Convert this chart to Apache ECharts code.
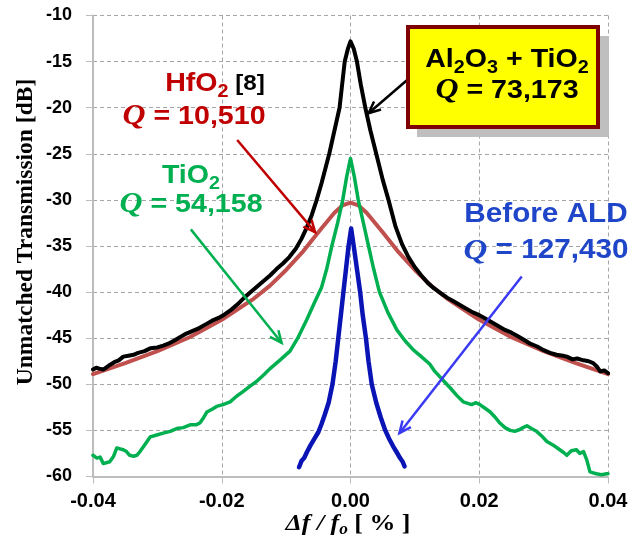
<!DOCTYPE html>
<html>
<head>
<meta charset="utf-8">
<script src="https://cdn.jsdelivr.net/npm/echarts@6/dist/echarts.min.js"></script>
<style>
  html, body { margin: 0; padding: 0; background: #fff; }
  #chart { width: 639px; height: 541px; }
</style>
</head>
<body>
<div id="chart"></div>
<script>
// x = Δf/fo [%], y = unmatched transmission [dB]
const xTicks = [-0.04, -0.02, 0.00, 0.02, 0.04]
const yTicks = [-60, -55, -50, -45, -40, -35, -30, -25, -20, -15, -10]

// HfO2 [8], Q = 10,510
const hfo2 = [
  [-0.04, -48.9], [-0.035, -47.7], [-0.03, -46.4], [-0.025, -44.9], [-0.02, -43.0],
  [-0.015, -40.7], [-0.0125, -39.3], [-0.01, -37.6], [-0.0075, -35.7], [-0.005, -33.5],
  [-0.0025, -31.4], [-0.00125, -30.6], [0, -30.3], [0.00125, -30.6], [0.0025, -31.4],
  [0.005, -33.5], [0.0075, -35.7], [0.01, -37.6], [0.0125, -39.3], [0.015, -40.7],
  [0.02, -43.0], [0.025, -44.9], [0.03, -46.4], [0.035, -47.7], [0.04, -48.9]
]

// Al2O3 + TiO2, Q = 73,173
const alTio2 = [
  [-0.0400, -48.4], [-0.0395, -48.2], [-0.0390, -48.3], [-0.0384, -48.4], [-0.0378, -48.1],
  [-0.0374, -47.9], [-0.0367, -47.6], [-0.0360, -47.4], [-0.0353, -47.0], [-0.0345, -46.9],
  [-0.0337, -46.8], [-0.0330, -46.6], [-0.0320, -46.4], [-0.0311, -46.1], [-0.0300, -46.0],
  [-0.0291, -45.8], [-0.0283, -45.6], [-0.0275, -45.3], [-0.0265, -44.9], [-0.0255, -44.5],
  [-0.0245, -44.2], [-0.0235, -43.9], [-0.0225, -43.5], [-0.0215, -43.1], [-0.0205, -42.8],
  [-0.0195, -42.4], [-0.0185, -41.9], [-0.0175, -41.3], [-0.0165, -40.6], [-0.0155, -40.0],
  [-0.0145, -39.4], [-0.0135, -38.8], [-0.0125, -38.2], [-0.0115, -37.5], [-0.0105, -36.9],
  [-0.0095, -36.2], [-0.0085, -35.3], [-0.0076, -34.2], [-0.0068, -33.0], [-0.0060, -31.6],
  [-0.0053, -30.1], [-0.0045, -28.2], [-0.0039, -26.6], [-0.0033, -25.0], [-0.0025, -22.5],
  [-0.0017, -20.0], [-0.0013, -17.5], [-0.0009, -15.0], [-0.0004, -13.6], [0, -12.8],
  [0.0005, -13.6], [0.0010, -15.0], [0.0016, -17.5], [0.0023, -20.0], [0.0031, -22.5],
  [0.0040, -25.0], [0.0050, -27.8], [0.0059, -30.0], [0.0070, -32.9], [0.0080, -34.8],
  [0.0090, -36.2], [0.0100, -37.3], [0.0110, -38.2], [0.0120, -39.0], [0.0130, -39.6],
  [0.0140, -40.1], [0.0150, -40.6], [0.0160, -41.0], [0.0170, -41.4], [0.0180, -41.8],
  [0.0190, -42.2], [0.0200, -42.5], [0.0210, -42.9], [0.0220, -43.3], [0.0230, -43.7],
  [0.0240, -44.1], [0.0250, -44.4], [0.0260, -44.8], [0.0270, -45.2], [0.0279, -45.6],
  [0.0290, -45.9], [0.0300, -46.3], [0.0310, -46.6], [0.0320, -46.8], [0.0330, -46.9],
  [0.0336, -47.0], [0.0345, -47.3], [0.0352, -47.2], [0.0362, -47.4], [0.0370, -47.5],
  [0.0377, -47.7], [0.0383, -48.1], [0.0388, -48.6], [0.0394, -48.5], [0.0400, -48.8]
]

// TiO2, Q = 54,158
const tio2 = [
  [-0.0400, -57.7], [-0.0394, -58.0], [-0.0389, -57.9], [-0.0384, -58.6], [-0.0374, -58.4],
  [-0.0368, -57.8], [-0.0363, -56.9], [-0.0358, -57.0], [-0.0353, -57.1], [-0.0348, -57.3],
  [-0.0343, -57.7], [-0.0337, -57.8], [-0.0332, -57.7], [-0.0327, -57.3], [-0.0322, -56.8],
  [-0.0316, -56.2], [-0.0311, -55.7], [-0.0301, -55.5], [-0.0291, -55.3], [-0.0280, -55.1],
  [-0.0270, -54.8], [-0.0260, -54.7], [-0.0249, -54.4], [-0.0240, -54.4], [-0.0234, -54.2],
  [-0.0228, -53.6], [-0.0223, -53.0], [-0.0215, -52.7], [-0.0208, -52.4], [-0.0198, -52.2],
  [-0.0187, -51.9], [-0.0177, -51.3], [-0.0167, -50.8], [-0.0156, -50.2], [-0.0146, -49.7],
  [-0.0135, -49.0], [-0.0125, -48.3], [-0.0110, -47.4], [-0.0094, -46.4], [-0.0082, -45.0],
  [-0.0068, -43.0], [-0.0055, -41.0], [-0.0045, -39.5], [-0.0037, -37.5], [-0.0029, -35.0],
  [-0.0020, -32.5], [-0.0012, -30.0], [-0.0006, -27.5], [0, -25.5], [0.0006, -27.5],
  [0.0012, -30.0], [0.0020, -32.5], [0.0028, -35.0], [0.0036, -37.5], [0.0045, -40.0],
  [0.0058, -42.2], [0.0072, -44.1], [0.0085, -45.3], [0.0098, -46.3], [0.0110, -47.0],
  [0.0123, -47.8], [0.0131, -48.6], [0.0139, -49.2], [0.0147, -49.8], [0.0155, -50.4],
  [0.0165, -51.2], [0.0175, -51.9], [0.0188, -52.2], [0.0195, -52.0], [0.0201, -52.2],
  [0.0209, -52.6], [0.0217, -53.0], [0.0225, -53.6], [0.0232, -54.2], [0.0240, -54.7],
  [0.0248, -55.0], [0.0255, -55.1], [0.0263, -54.9], [0.0268, -54.7], [0.0274, -54.5],
  [0.0281, -54.8], [0.0289, -55.1], [0.0297, -55.6], [0.0305, -56.2], [0.0315, -56.6],
  [0.0325, -57.1], [0.0331, -57.4], [0.0336, -57.7], [0.0343, -57.2], [0.0351, -57.1],
  [0.0356, -57.5], [0.0362, -57.3], [0.0367, -58.2], [0.0372, -59.5], [0.0377, -59.6],
  [0.0382, -59.7], [0.0390, -59.8], [0.0398, -59.7], [0.0400, -59.7]
]

// Before ALD, Q = 127,430
const beforeAld = [
  [-0.0080, -59.0], [-0.0076, -58.3], [-0.0072, -58.0], [-0.0068, -57.4], [-0.0062, -56.6],
  [-0.0056, -55.9], [-0.0050, -55.2], [-0.0045, -54.3], [-0.0040, -53.3], [-0.0034, -52.0],
  [-0.0028, -50.0], [-0.0023, -47.5], [-0.0019, -45.0], [-0.0015, -42.5], [-0.0011, -40.0],
  [-0.0007, -37.5], [-0.0003, -35.0], [0.0001, -33.1], [0.0005, -35.0], [0.0010, -37.5],
  [0.0015, -40.0], [0.0019, -42.5], [0.0024, -45.0], [0.0028, -47.5], [0.0033, -50.0],
  [0.0040, -52.0], [0.0047, -53.6], [0.0054, -55.0], [0.0060, -55.9], [0.0066, -56.7],
  [0.0072, -57.4], [0.0077, -58.0], [0.0081, -58.4], [0.0084, -58.9]
]

// annotation arrows: [from, to] in data units
const arrowAl = [[0.0088, -17.0], [0.0028, -20.6]]
const arrowHf = [[-0.0176, -23.5], [-0.0055, -33.5]]
const arrowTi = [[-0.0248, -33.2], [-0.0107, -45.5]]
const arrowBefore = [[0.0266, -38.3], [0.0076, -55.3]]

const SANS = 'Liberation Sans, Arial, sans-serif'
const SERIF = 'Liberation Serif, Times New Roman, serif'

let chart = echarts.init(document.getElementById('chart'))

function line(name, data, color, width) {
  return {
    name: name,
    type: 'line',
    data: data,
    showSymbol: false,
    lineStyle: { color: color, width: width, join: 'round', cap: 'round' },
    itemStyle: { color: color },
    animation: false
  }
}

let option = {
  animation: false,
  grid: { left: 93, right: 31, top: 15.5, bottom: 64.5 },
  xAxis: {
    type: 'value',
    min: xTicks[0],
    max: xTicks[xTicks.length - 1],
    interval: 0.02,
    axisLine: { onZero: false, lineStyle: { color: '#BDBDBD', width: 2 } },
    axisTick: { show: true, length: 7, lineStyle: { color: '#BDBDBD', width: 1 } },
    splitLine: { show: true, lineStyle: { color: '#A6A6A6', type: [4, 3], width: 1 } },
    axisLabel: {
      margin: 15,
      color: '#000',
      fontFamily: SANS,
      fontWeight: 'bold',
      fontSize: 20,
      formatter: v => v.toFixed(2)
    }
  },
  yAxis: {
    type: 'value',
    min: yTicks[0],
    max: yTicks[yTicks.length - 1],
    interval: 5,
    axisLine: { show: true, onZero: false, lineStyle: { color: '#BDBDBD', width: 2 } },
    axisTick: { show: true, length: 7, lineStyle: { color: '#BDBDBD', width: 1 } },
    splitLine: { show: true, lineStyle: { color: '#A6A6A6', type: [4, 3], width: 1 } },
    axisLabel: {
      margin: 21,
      color: '#000',
      fontFamily: SANS,
      fontWeight: 'bold',
      fontSize: 18
    }
  },
  series: [
    line('HfO2', hfo2, '#C0504D', 4),
    line('Al2O3 + TiO2', alTio2, '#000000', 4),
    line('TiO2', tio2, '#00B050', 3.5),
    line('Before ALD', beforeAld, '#0A14B4', 4.5)
  ]
}
chart.setOption(option)

function arrow(pair, color, width) {
  let a = chart.convertToPixel({ gridIndex: 0 }, pair[0])
  let b = chart.convertToPixel({ gridIndex: 0 }, pair[1])
  let ang = Math.atan2(b[1] - a[1], b[0] - a[0])
  let L = 13, w = 0.42
  let p1 = [b[0] - L * Math.cos(ang - w), b[1] - L * Math.sin(ang - w)]
  let p2 = [b[0] - L * Math.cos(ang + w), b[1] - L * Math.sin(ang + w)]
  return [
    { type: 'polyline', z: 100, shape: { points: [a, b] }, style: { stroke: color, lineWidth: width, fill: null } },
    { type: 'polyline', z: 100, shape: { points: [p1, b, p2] }, style: { stroke: color, lineWidth: width, fill: null, lineJoin: 'miter' } }
  ]
}

function richStyles(color, size) {
  return {
    m: { fontFamily: SANS, fontWeight: 'bold', fontSize: size, fill: color, lineHeight: 34 },
    s: { fontFamily: SANS, fontWeight: 'bold', fontSize: Math.round(size * 0.7), fill: color, lineHeight: 14, verticalAlign: 'bottom' },
    q: { fontFamily: SERIF, fontStyle: 'italic', fontWeight: 'bold', fontSize: size + 3, fill: color, lineHeight: 34 },
    k: { fontFamily: SANS, fontWeight: 'bold', fontSize: 22, fill: '#000', lineHeight: 34 }
  }
}

// text in the source figure is slightly stretched horizontally
function label(text, x, y, color, size) {
  return {
    type: 'text', z: 110, x: x, y: y, scaleX: 1.1, scaleY: 1,
    style: { text: text, rich: richStyles(color, size), align: 'center', verticalAlign: 'middle' }
  }
}

let RED = '#C00000', GREEN = '#00B050', BLUE = '#1F45C8'

let graphics = []
// box with shadow
graphics.push({ type: 'rect', z: 100, shape: { x: 417, y: 36, width: 192, height: 101 }, style: { fill: '#BFBFBF' } })
graphics.push({ type: 'rect', z: 101, shape: { x: 408, y: 27, width: 190, height: 100 }, style: { fill: '#FFFF00', stroke: '#7F0000', lineWidth: 4 } })

graphics = graphics.concat(
  arrow(arrowAl, '#000', 2.5),
  arrow(arrowHf, RED, 2.5),
  arrow(arrowTi, GREEN, 2.5),
  arrow(arrowBefore, '#3A3AF5', 2.5)
)

graphics.push(label('{m|HfO}{s|2}{k| [8]}', 215, 84, RED, 26))
graphics.push(label('{q|Q}{m| = 10,510}', 194, 117, RED, 26))
graphics.push(label('{m|TiO}{s|2}', 191, 176, GREEN, 26))
graphics.push(label('{q|Q}{m| = 54,158}', 191, 205, GREEN, 26))
graphics.push(label('{m|Al}{s|2}{m|O}{s|3}{m| + TiO}{s|2}', 507, 60, '#000', 26))
graphics.push(label('{q|Q}{m| = 73,173}', 507, 91, '#000', 26))
graphics.push(label('{m|Before ALD}', 546, 215, BLUE, 27))
graphics.push(label('{q|Q}{m| = 127,430}', 546, 251, BLUE, 27))

// axis titles
graphics.push({
  type: 'text', z: 110, x: 26, y: 232, rotation: Math.PI / 2,
  style: {
    text: 'Unmatched Transmission [dB]',
    fontFamily: SERIF, fontWeight: 'bold', fontSize: 23.5, fill: '#000',
    align: 'center', verticalAlign: 'middle'
  }
})
graphics.push({
  type: 'text', z: 110, x: 348, y: 524, scaleX: 1.08, scaleY: 1,
  style: {
    text: '{i|Δf / f}{o|o}{n| [ % ]}',
    rich: {
      i: { fontFamily: SERIF, fontStyle: 'italic', fontWeight: 'bold', fontSize: 24, fill: '#000', lineHeight: 28 },
      o: { fontFamily: SERIF, fontStyle: 'italic', fontWeight: 'bold', fontSize: 16, fill: '#000', lineHeight: 13, verticalAlign: 'bottom' },
      n: { fontFamily: SERIF, fontWeight: 'bold', fontSize: 24, fill: '#000', lineHeight: 28 }
    },
    align: 'center', verticalAlign: 'middle'
  }
})

chart.setOption({ graphic: { elements: graphics } })
</script>
</body>
</html>
